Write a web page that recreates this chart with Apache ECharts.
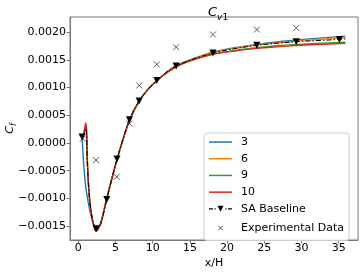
<!DOCTYPE html>
<html><head><meta charset="utf-8">
<script src="https://cdn.jsdelivr.net/npm/echarts@6/dist/echarts.min.js"></script>
<style>html,body{margin:0;padding:0;background:#fff}#c{width:361px;height:273px}</style>
</head><body><div id="c"></div>
<script>
const xs = [0.5, 0.7, 0.85, 1.0, 1.1, 1.2, 1.3, 1.45, 1.65, 1.9, 2.1, 2.35, 2.6, 3.0, 3.4, 3.8, 4.5, 5.2, 6.0, 6.9, 8.2, 9.3, 10.6, 11.8, 13.2, 15.0, 18.1, 21.0, 24.0, 27.0, 29.3, 32.0, 35.9];
const y3  = [0.00011, -0.00035, -0.0006, -0.0008, -0.00089, -0.00097, -0.00105, -0.00116, -0.00128, -0.0014, -0.00148, -0.00155, -0.00155, -0.00145, -0.00124, -0.00101, -0.00064, -0.0003, 0.00006, 0.00042, 0.00076, 0.00096, 0.00113, 0.00127, 0.0014, 0.0015, 0.00164, 0.00172, 0.00178, 0.00183, 0.00186, 0.00189, 0.00193];
const y6  = [0.00011, 0.00014, 0.0002, 0.00026, 0.00018, -0.0003, -0.00058, -0.00092, -0.00119, -0.00139, -0.0015, -0.00158, -0.00157, -0.00146, -0.00125, -0.00102, -0.00065, -0.0003, 0.00006, 0.00042, 0.00076, 0.00096, 0.00113, 0.00127, 0.0014, 0.0015, 0.00164, 0.00171, 0.00177, 0.00181, 0.00184, 0.00187, 0.0019];
const y9  = [0.00011, 0.00015, 0.00023, 0.00031, 0.00022, -0.00028, -0.00058, -0.00092, -0.00119, -0.00139, -0.0015, -0.00159, -0.00157, -0.00146, -0.00125, -0.00102, -0.00065, -0.0003, 0.00006, 0.00042, 0.00076, 0.00096, 0.00113, 0.00126, 0.00139, 0.00149, 0.00161, 0.00167, 0.00172, 0.00176, 0.00178, 0.0018, 0.00182];
const y10 = [0.00011, 0.00016, 0.00026, 0.00036, 0.00025, -0.00028, -0.00058, -0.00092, -0.00119, -0.00139, -0.0015, -0.00159, -0.00157, -0.00146, -0.00125, -0.00102, -0.00065, -0.0003, 0.00006, 0.00042, 0.00076, 0.00096, 0.00113, 0.00126, 0.00138, 0.00148, 0.0016, 0.00166, 0.00171, 0.00174, 0.00176, 0.00178, 0.0018];
const saX = [0.5, 0.7, 0.85, 1.0, 1.1, 1.2, 1.45, 1.9, 2.4, 3.0, 3.82, 5.2, 6.87, 8.17, 10.55, 13.15, 18.1, 24.0, 29.3, 35.1, 35.9];
const saY = [0.00011, 0.00014, 0.0002, 0.00026, 0.00018, -0.0003, -0.00092, -0.00139, -0.00155, -0.00146, -0.00102, -0.00029, 0.00042, 0.00076, 0.00113, 0.00139, 0.001625, 0.001764, 0.00183, 0.00187, 0.00188];
const saMarked = [0.5, 2.4, 3.82, 5.2, 6.87, 8.17, 10.55, 13.15, 18.1, 24.0, 29.3, 35.1];
const expX = [0.6, 2.38, 5.17, 6.87, 8.2, 10.55, 13.15, 18.1, 24.0, 29.3];
const expY = [0.00008, -0.00031, -0.00061, 0.00035, 0.00104, 0.00142, 0.00173, 0.00196, 0.00205, 0.00208];
const xTicks = [0, 5, 10, 15, 20, 25, 30, 35];
const yTicks = [-0.0015, -0.0010, -0.0005, 0.0, 0.0005, 0.0010, 0.0015, 0.0020];
const seriesNames = ['3', '6', '9', '10', 'SA Baseline', 'Experimental Data'];
const colors = ['#1f77b4', '#ff7f0e', '#2ca02c', '#d62728'];

const font = 'DejaVu Sans';
const pair = (a, b) => a.map((v, i) => [v, b[i]]);
const ys = [y3, y6, y9, y10];
const lineSeries = ys.map((y, k) => ({
  name: seriesNames[k], type: 'line', data: pair(xs, y), symbol: 'none', smooth: 0.3,
  lineStyle: {color: colors[k], width: 1.4}, itemStyle: {color: colors[k]}, z: 2 + k, silent: true
}));
const saData = saX.map((x, i) => saMarked.includes(x) ? {value: [x, saY[i]]} : {value: [x, saY[i]], symbol: 'none'});
const crossPath = 'path://M0,0L10,10M10,0L0,10';
const lineIcon = 'path://M0,0M23,12M0,5.3h23v1.5h-23z';
const saIcon = 'path://M0,0M23,12M0,5.4h4v1.2h-4zM5.5,5.4h1.2v1.2h-1.2zM8.5,3h6l-3,6zM16.3,5.4h1.2v1.2h-1.2zM19,5.4h4v1.2h-4z';
const crossLegend = 'path://M0,0M14,14M4.5,4.5L9.5,9.5M9.5,4.5L4.5,9.5';
const fmt = v => { const s = Math.abs(v).toFixed(4); return (v < -1e-12 ? '\u2212' : '') + s; };

const chart = echarts.init(document.getElementById('c'), null, {renderer: 'canvas'});
chart.setOption({
  animation: false,
  backgroundColor: '#fff',
  textStyle: {fontFamily: font},
  title: {
    text: '{c|C}{v|v}{n|1}', left: 203, top: -1,
    textStyle: {fontWeight: 'normal', rich: {
      c: {fontFamily: font, fontStyle: 'italic', fontWeight: 'normal', fontSize: 13, lineHeight: 18, color: '#000'},
      v: {fontFamily: font, fontStyle: 'italic', fontWeight: 'normal', fontSize: 9, lineHeight: 9, verticalAlign: 'bottom', color: '#000'},
      n: {fontFamily: font, fontWeight: 'normal', fontSize: 9, lineHeight: 9, verticalAlign: 'bottom', color: '#000'}
    }}
  },
  grid: {left: 70, right: 3, top: 17, bottom: 33, show: true, borderColor: '#777', borderWidth: 1, outerBoundsMode: 'none', containLabel: false},
  xAxis: {
    type: 'value', min: -1.12, max: 37.6,
    name: 'x/H', nameLocation: 'middle', nameGap: 18, nameMoveOverlap: false,
    nameTextStyle: {fontFamily: font, fontSize: 11, color: '#000'},
    axisLine: {show: true, onZero: false, lineStyle: {color: '#777'}},
    axisTick: {show: true, length: 3.5, lineStyle: {color: '#777'}, customValues: xTicks},
    axisLabel: {fontFamily: font, fontSize: 11, color: '#000', margin: 3, customValues: xTicks},
    splitLine: {show: false}
  },
  yAxis: {
    type: 'value', min: -0.001753, max: 0.002276,
    name: '{c|C}{s|f}', nameLocation: 'middle', nameGap: 52, nameRotate: 90, nameMoveOverlap: false,
    nameTextStyle: {rich: {
      c: {fontFamily: font, fontStyle: 'italic', fontSize: 11, lineHeight: 15, color: '#000'},
      s: {fontFamily: font, fontStyle: 'italic', fontSize: 8, lineHeight: 8, verticalAlign: 'bottom', color: '#000'}
    }},
    axisLine: {show: true, onZero: false, lineStyle: {color: '#777'}},
    axisTick: {show: true, length: 3.5, lineStyle: {color: '#777'}, customValues: yTicks},
    axisLabel: {fontFamily: font, fontSize: 11, color: '#000', margin: 4, customValues: yTicks, formatter: fmt},
    splitLine: {show: false}
  },
  legend: {
    left: 204, top: 133, orient: 'vertical',
    itemWidth: 23, itemHeight: 12, itemGap: 4.7,
    padding: [3, 5, 4, 5],
    borderColor: '#ccc', borderWidth: 1, borderRadius: 3, backgroundColor: 'rgba(255,255,255,0.8)',
    textStyle: {fontFamily: font, fontSize: 11, color: '#000', padding: [0, 0, 0, 4]},
    data: [
      {name: '3', icon: lineIcon}, {name: '6', icon: lineIcon}, {name: '9', icon: lineIcon}, {name: '10', icon: lineIcon},
      {name: 'SA Baseline', icon: saIcon, itemStyle: {color: '#000', borderWidth: 0}},
      {name: 'Experimental Data', icon: crossLegend, itemStyle: {color: 'none', borderColor: '#333', borderWidth: 1}}
    ]
  },
  series: lineSeries.concat([
    {
      name: seriesNames[4], type: 'line', data: saData, smooth: 0.3,
      symbol: 'triangle', symbolRotate: 180, symbolSize: 7, showAllSymbol: true,
      lineStyle: {color: '#000', width: 1, type: [5, 2, 1.5, 2]}, itemStyle: {color: '#000'}, z: 10, silent: true
    },
    {
      name: seriesNames[5], type: 'scatter', data: pair(expX, expY),
      symbol: crossPath, symbolSize: 6,
      itemStyle: {color: 'none', borderColor: '#333', borderWidth: 1}, z: 11, silent: true
    }
  ])
});
</script></body></html>
